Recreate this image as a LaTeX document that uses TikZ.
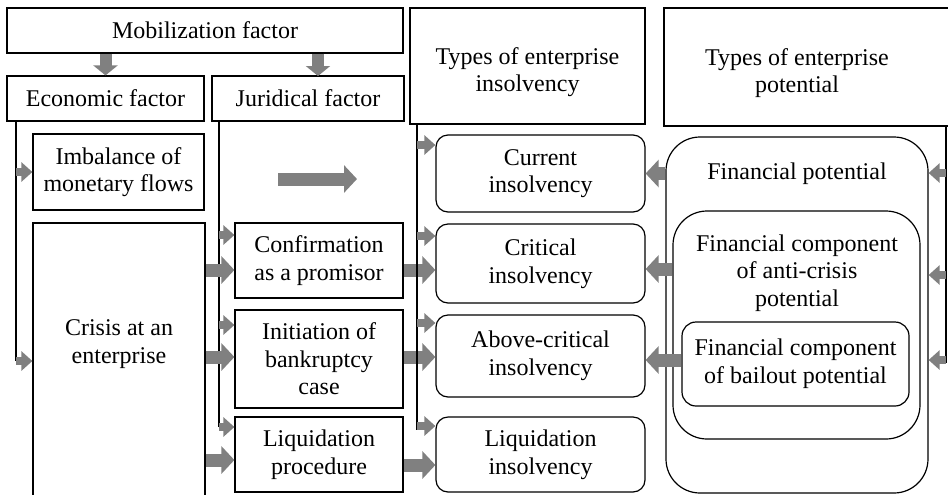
\documentclass[tikz,border=0pt]{standalone}
\usepackage{fontspec}
\setmainfont{Liberation Serif}
\usetikzlibrary{fit,arrows.meta}
\definecolor{arrowgray}{RGB}{128,128,128}
\begin{document}
\begin{tikzpicture}[x=0.5pt,y=-0.5pt,
  every node/.style={font=\fontsize{12}{13.8}\selectfont},
  box/.style={draw, line width=0.6pt, inner sep=0pt, align=center},
  rbox/.style={box, rounded corners=6pt},
  bigrbox/.style={box, rounded corners=17pt},
  txt/.style={align=center, inner sep=0pt},
  conn/.style={line width=0.7pt},
  bigarr/.style={draw=arrowgray, line width=6.5pt, -{Triangle[length=6.5pt,width=13.5pt]}},
  smallarr/.style={draw=arrowgray, line width=4pt, -{Triangle[length=5.5pt,width=9.5pt]}},
  downarr/.style={draw=arrowgray, line width=6pt, -{Triangle[length=5pt,width=12pt]}}
]
\useasboundingbox (0,0) rectangle (948,494);
\clip (0,0) rectangle (948,494);

% header boxes
\node[box, minimum width=198pt, minimum height=22.5pt] (mob) at (205,30.5) {Mobilization factor};
\node[box, minimum width=98.5pt, minimum height=22.5pt] (econ) at (105.5,98.5) {Economic factor};
\node[box, minimum width=96pt, minimum height=22.5pt] (jur) at (308,98.5) {Juridical factor};
\node[box, fit={(410,8) (645,124)}] (tins) {};
\node[txt] (tinstext) at (527.5,72) {Types of enterprise\\insolvency};
\node[box, fit={(664,8) (956,126)}] (tpot) {};
\node[txt] (tpottext) at (797,73) {Types of enterprise\\potential};

% economic column
\node[box, minimum width=85.5pt, minimum height=38pt] (imb) at (118.5,172) {Imbalance of\\monetary flows};
\node[box, fit={(33,223) (205,520)}] (crisis) {};
\node[txt] (crisistext) at (119,344) {Crisis at an\\enterprise};

% juridical column
\node[box, minimum width=84pt, minimum height=37.5pt] (conf) at (319,260.5) {Confirmation\\as a promisor};
\node[box, minimum width=84pt, minimum height=49pt] (init) at (319,359) {Initiation of\\bankruptcy\\case};
\node[box, minimum width=84pt, minimum height=37.5pt] (liqp) at (319,454.5) {Liquidation\\procedure};

% insolvency column
\node[rbox, minimum width=104.5pt, minimum height=38.5pt] (cur) at (540.5,173.5) {Current\\insolvency};
\node[rbox, minimum width=104.5pt, minimum height=39.5pt] (crit) at (540.5,263.5) {Critical\\insolvency};
\node[rbox, minimum width=104.5pt, minimum height=41pt] (above) at (540.5,356) {Above-critical\\insolvency};
\node[rbox, minimum width=104.5pt, minimum height=37.5pt] (liqi) at (540.5,454.5) {Liquidation\\insolvency};

% potential column
\node[bigrbox, fit={(666,137) (928,493)}] (fp) {};
\node[txt] (fptext) at (797,174) {Financial potential};
\node[bigrbox, fit={(673,211) (920,439)}] (ac) {};
\node[txt] (actext) at (797,273) {Financial component\\of anti-crisis\\potential};
\node[box, rounded corners=7pt, minimum width=113.5pt, minimum height=42pt] (bo) at (795.5,364) {Financial component\\of bailout potential};

% down arrows from mobilization factor
\coordinate (jd) at (318,76);
\draw[downarr] (mob.south -| econ.north) -- (econ.north);
\draw[downarr] (jd |- mob.south) -- (jd);

% economic line
\coordinate (eTop) at (16,121);
\coordinate (eBot) at (16,361);
\draw[conn] (eTop) -- (eBot);
\draw[smallarr] (eTop |- imb.west) -- (imb.west);
\draw[smallarr] (eBot) -- (crisis.west |- eBot);

% juridical line
\coordinate (jTop) at (219,121);
\coordinate (jBot) at (219,427);
\draw[conn] (jTop) -- (jBot);
\draw[smallarr] (jTop |- 0,235) -- (conf.west |- 0,235);
\draw[smallarr] (jTop |- 0,325) -- (init.west |- 0,325);
\draw[smallarr] (jBot) -- (liqp.west |- jBot);

% free arrow in juridical column
\coordinate (fa1) at (278,179);
\coordinate (fa2) at (357,179);
\draw[bigarr] (fa1) -- (fa2);

% crisis to juridical boxes
\draw[bigarr] (crisis.east |- 0,270) -- (conf.west |- 0,270);
\draw[bigarr] (crisis.east |- 0,357) -- (init.west |- 0,357);
\draw[bigarr] (crisis.east |- 0,460) -- (liqp.west |- 0,460);

% juridical boxes to insolvency boxes
\draw[bigarr] (conf.east |- 0,270) -- (crit.west |- 0,270);
\draw[bigarr] (init.east |- 0,357) -- (above.west |- 0,357);
\draw[bigarr] (liqp.east |- 0,465) -- (liqi.west |- 0,465);

% insolvency line
\coordinate (iTop) at (417,124);
\coordinate (iBot) at (417,430);
\draw[conn] (iTop) -- (iBot);
\draw[smallarr] (iTop |- 0,145) -- (cur.west |- 0,145);
\draw[smallarr] (iTop |- 0,236) -- (crit.west |- 0,236);
\draw[smallarr] (iTop |- 0,323) -- (above.west |- 0,323);
\draw[smallarr] (iTop |- 0,426) -- (liqi.west |- 0,426);

% potential line
\coordinate (pTop) at (946,126);
\coordinate (pBot) at (946,363);
\draw[conn] (pTop) -- (pBot);
\draw[smallarr] (pTop |- 0,173) -- (fp.east |- 0,173);
\draw[smallarr] (pTop |- 0,275) -- (fp.east |- 0,275);
\draw[smallarr] (pTop |- 0,360) -- (fp.east |- 0,360);

% potential to insolvency
\draw[bigarr] (fp.west |- cur.east) -- (cur.east);
\draw[bigarr] (ac.west |- 0,269) -- (crit.east |- 0,269);
\draw[bigarr] (bo.west |- 0,360) -- (above.east |- 0,360);
\end{tikzpicture}
\end{document}
